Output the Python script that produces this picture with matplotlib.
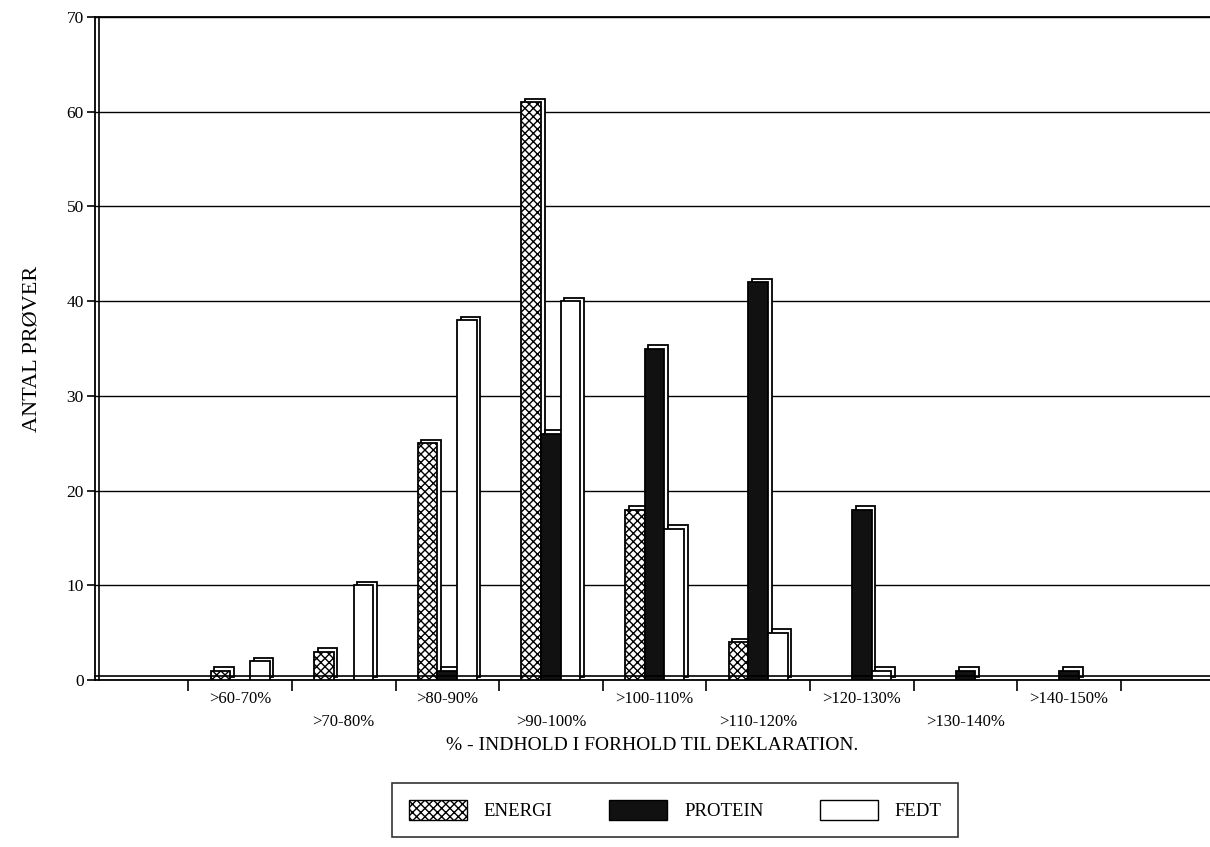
import numpy as np
from matplotlib import pyplot as plt
from matplotlib.patches import Patch

plt.rcParams['font.family'] = ['Liberation Serif', 'DejaVu Serif']
plt.rcParams['hatch.linewidth'] = 1.0

categories = ['>60-70%', '>70-80%', '>80-90%', '>90-100%', '>100-110%',
              '>110-120%', '>120-130%', '>130-140%', '>140-150%']
energi = [1, 3, 25, 61, 18, 4, 0, 0, 0]
protein = [0, 0, 1, 26, 35, 42, 18, 1, 1]
fedt = [2, 10, 38, 40, 16, 5, 1, 0, 0]

series = [('ENERGI', energi, 'white', 'xxxx'),
          ('PROTEIN', protein, '#111111', None),
          ('FEDT', fedt, 'white', None)]

x = np.arange(len(categories))
width = 0.19
dx, dy = 0.035, 0.35   # fake 3D depth

fig = plt.figure(figsize=(12.1, 8.47), dpi=100)
ax = fig.add_axes([0.0785, 0.197, 0.9215, 0.783])

for k, (name, vals, color, hatch) in enumerate(series):
    vals = np.array(vals)
    pos = x + (k - 1) * width
    m = vals > 0
    # side/top face
    ax.bar(pos[m] + dx, vals[m], width=width, bottom=dy, align='center',
           color='white', edgecolor='black', linewidth=1.3, zorder=2 + k * 0.1)
for k, (name, vals, color, hatch) in enumerate(series):
    vals = np.array(vals)
    pos = x + (k - 1) * width
    m = vals > 0
    ax.bar(pos[m], vals[m], width=width, color=color, hatch=hatch,
           edgecolor='black', linewidth=1.3, zorder=3 + k * 0.1)

ax.set_xlim(-1.4, 9.36)
ax.set_ylim(0, 70)
ax.set_yticks(np.arange(0, 71, 10))
ax.yaxis.grid(True, color='black', linewidth=1.0)
ax.set_axisbelow(True)

ax.set_xticks(np.arange(-0.5, 9.5, 1.0))
ax.set_xticklabels([])
ax.set_xticks(x, minor=True)
ax.set_xticklabels([('' if i % 2 == 0 else '\n') + c for i, c in enumerate(categories)],
                   minor=True, fontsize=12, linespacing=1.6)
ax.tick_params(axis='x', which='minor', length=0, pad=8)
ax.tick_params(axis='x', which='major', length=8, width=1.2, direction='out')
ax.tick_params(axis='y', length=6, width=1.2, direction='out', labelsize=12.5, pad=2)

for s in ['left', 'bottom', 'top']:
    ax.spines[s].set_linewidth(1.3)
ax.spines['right'].set_visible(False)
# double lines for the floor and the wall
ax.plot([0.004, 0.004], [0, 1], transform=ax.transAxes, color='black',
        linewidth=1.2, clip_on=False, zorder=5)
ax.plot([0, 1], [0.006, 0.006], transform=ax.transAxes, color='black',
        linewidth=1.2, clip_on=False, zorder=5)

ax.set_xlabel('% - INDHOLD I FORHOLD TIL DEKLARATION.', fontsize=14, labelpad=8)
ax.xaxis.set_label_coords(0.5, -0.085)
ax.set_ylabel('ANTAL PRØVER', fontsize=16, labelpad=18)

handles = [Patch(facecolor=c, edgecolor='black', hatch=h, label=n)
           for n, v, c, h in series]
leg = fig.legend(handles=handles, loc='center', bbox_to_anchor=(0.558, 0.0437), ncol=3,
                 fontsize=13.5, frameon=True, fancybox=False, edgecolor='black',
                 handlelength=3.1, handleheight=1.3, handletextpad=0.9,
                 columnspacing=3.0, borderpad=0.9)
leg.get_frame().set_linewidth(1.2)

fig.savefig('out.png', dpi=100)
